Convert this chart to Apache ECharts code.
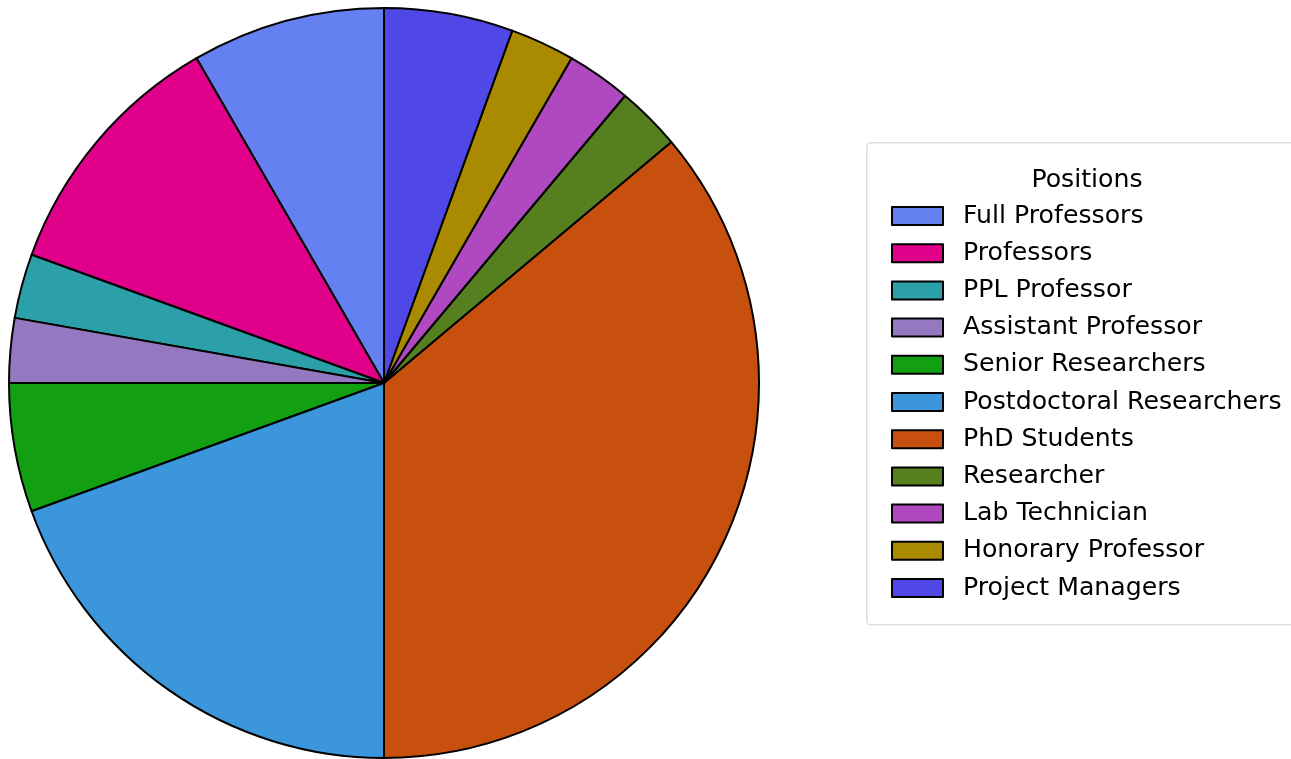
<!DOCTYPE html>
<html>
<head>
<meta charset="utf-8">
<script src="https://cdn.jsdelivr.net/npm/echarts@6/dist/echarts.min.js"></script>
<style>
html,body{margin:0;padding:0;background:#fff;}
#chart{width:1291px;height:759px;}
</style>
</head>
<body>
<div id="chart"></div>
<script>
const categories = ["Full Professors","Professors","PPL Professor","Assistant Professor","Senior Researchers","Postdoctoral Researchers","PhD Students","Researcher","Lab Technician","Honorary Professor","Project Managers"];
const counts = [3,4,1,1,2,7,13,1,1,1,2];
const colors = ["#6580F0","#E0008A","#2CA0A8","#9478C0","#12A012","#3C96DC","#C8500F","#568020","#B048C0","#AA8A00","#5048E6"];
const legendTitle = "Positions";

const chart = echarts.init(document.getElementById('chart'), null, {renderer:'canvas'});
const font = "'DejaVu Sans', sans-serif";
chart.setOption({
  animation:false,
  backgroundColor:'#fff',
  graphic:[
    {type:'rect', left:866, top:142, shape:{width:450, height:482, r:4}, style:{fill:'#fff', stroke:'#dddddd', lineWidth:1.5}, z:0},
    {type:'text', x:1087, y:180.5, style:{text:legendTitle, fontFamily:font, fontSize:25.2, fill:'#000', align:'center', verticalAlign:'middle'}, z:10}
  ],
  legend:{
    orient:'vertical',
    left:891, top:203.5,
    padding:0,
    itemWidth:51, itemHeight:18,
    itemGap:12.2,
    icon:'rect',
    itemStyle:{borderColor:'#000', borderWidth:2},
    textStyle:{fontFamily:font, fontSize:25.2, color:'#000', lineHeight:25, padding:[0,0,0,15]},
    data:categories,
    z:10
  },
  series:[{
    type:'pie',
    center:[384,383],
    radius:[0,375],
    startAngle:90,
    clockwise:false,
    label:{show:false},
    labelLine:{show:false},
    emphasis:{disabled:true},
    itemStyle:{borderColor:'#000', borderWidth:2},
    data:categories.map((c,i)=>({name:c, value:counts[i], itemStyle:{color:colors[i]}}))
  }]
});
</script>
</body>
</html>
